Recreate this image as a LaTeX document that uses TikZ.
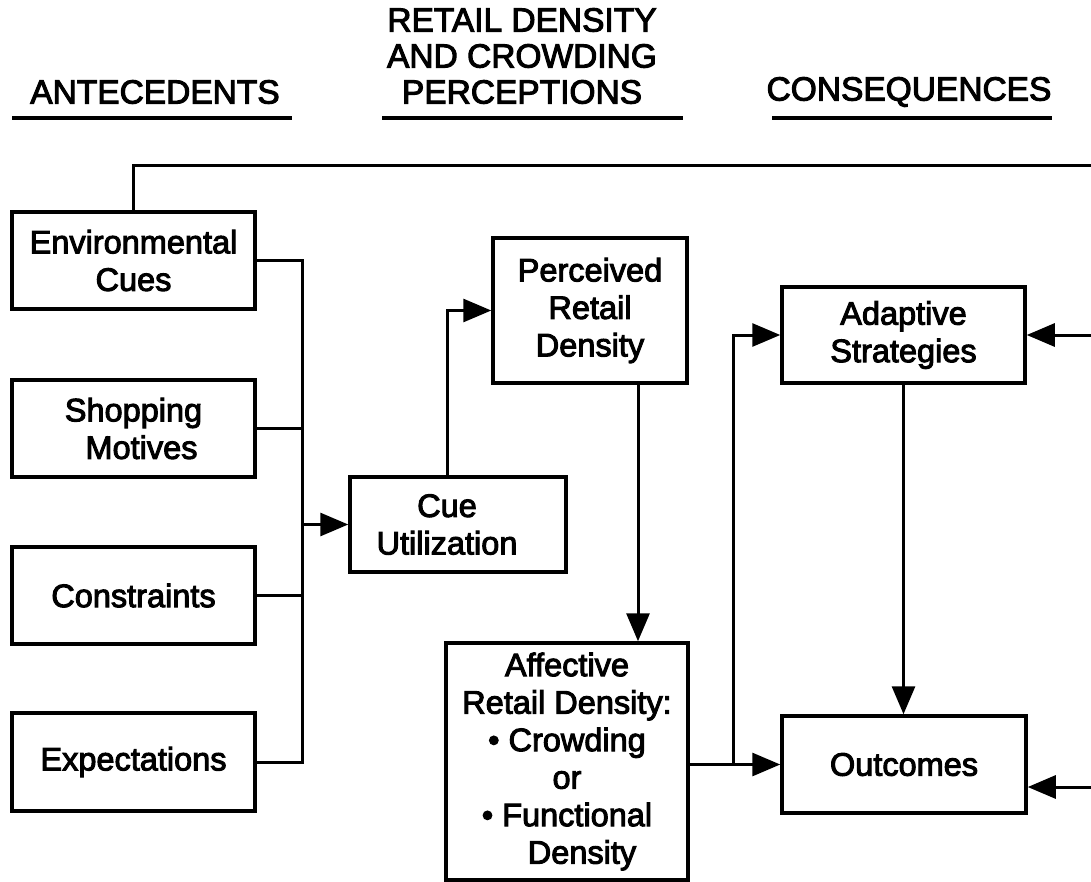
\documentclass[tikz,border=0pt]{standalone}
\usepackage{fontspec}
\usetikzlibrary{arrows.meta}
\newfontfamily\dgfont{Liberation Sans}[FakeBold=3]
\newcommand\dgboxfont{\dgfont\fontsize{32.5}{37.5}\selectfont}
\newcommand\dgheadfont{\dgfont\fontsize{33.5}{36}\selectfont}
\tikzset{
  box/.style={draw, line width=3.5pt, align=center, inner sep=0pt, font=\dgboxfont},
  head/.style={align=center, inner sep=0pt, font=\dgheadfont},
  link/.style={line width=3pt},
  arr/.style={link, -{Triangle[length=28pt,width=23pt]}},
  headrule/.style={line width=3.8pt},
}
\begin{document}
\begin{tikzpicture}[x=1pt,y=-1pt]
  \useasboundingbox (0,0) rectangle (1091,882);

  % column headings
  \node[head] (hant) at (155,92) {ANTECEDENTS};
  \node[head] (hmid) at (522,56) {RETAIL DENSITY\\AND CROWDING\\PERCEPTIONS};
  \node[head] (hcon) at (909,92) {CONSEQUENCES};
  \coordinate (ua1) at (12,118);   \coordinate (ua2) at (292,118);
  \coordinate (um1) at (382,118);  \coordinate (um2) at (683,118);
  \coordinate (uc1) at (772,118);  \coordinate (uc2) at (1052,118);
  \draw[headrule] (ua1) -- (ua2);
  \draw[headrule] (um1) -- (um2);
  \draw[headrule] (uc1) -- (uc2);

  % antecedents
  \node[box, minimum width=243pt, minimum height=97pt] (env)  at (133.5,260.5) {Environmental\\Cues};
  \node[box, minimum width=243pt, minimum height=97pt] (shop) at (133.5,428.5) {Shopping\\\hspace*{16pt}Motives};
  \node[box, minimum width=243pt, minimum height=97pt] (cons) at (133.5,595.5) {Constraints};
  \node[box, minimum width=243pt, minimum height=98pt] (expc) at (133.5,762)   {Expectations};

  % perceptions
  \node[box, minimum width=216pt, minimum height=95pt]  (cue)  at (458,524.5) {\hspace*{-22pt}Cue\\\hspace*{-22pt}Utilization};
  \node[box, minimum width=194pt, minimum height=145pt] (perc) at (590,310.5) {Perceived\\Retail\\Density};
  \node[box, minimum width=242pt, minimum height=237pt] (aff)  at (567,761.5)
    {Affective\\Retail Density:\\• Crowding\\or\\• Functional\\\hspace*{30pt}Density};

  % consequences
  \node[box, minimum width=243pt, minimum height=96pt] (adapt) at (903.5,335) {Adaptive\\Strategies};
  \node[box, minimum width=244pt, minimum height=97pt] (outc)  at (904,764.5) {Outcomes};

  % antecedents feed a common bus into cue utilization
  \coordinate (busx) at (302,0);
  \draw[link] (env.east) -- (env.east -| busx) |- (expc.east);
  \draw[link] (shop.east) -- (shop.east -| busx);
  \draw[link] (cons.east) -- (cons.east -| busx);
  \draw[arr] (cue.west -| busx) -- (cue.west);

  % cue utilization -> perceived density -> affective density
  \draw[arr] ([xshift=-11pt]cue.north) |- (perc.west);
  \coordinate (dropx) at (638,0);
  \draw[arr] (perc.south -| dropx) -- (aff.north -| dropx);

  % affective density -> outcomes, with a branch to adaptive strategies
  \coordinate (splitx) at (733,0);
  \draw[arr] (outc.west -| aff.east) -- (outc.west);
  \draw[arr] (outc.west -| splitx) |- (adapt.west);
  \draw[arr] (adapt.south) -- (adapt.south |- outc.north);

  % feedback loop from environmental cues around the right side
  \coordinate (rimtop) at (1091,166);
  \coordinate (rimlow) at (1091,787);
  \draw[link] (env.north) |- (rimtop);
  \draw[arr] (adapt.east -| rimtop) -- (adapt.east);
  \draw[arr] (rimlow) -- (rimlow -| outc.east);
\end{tikzpicture}
\end{document}
